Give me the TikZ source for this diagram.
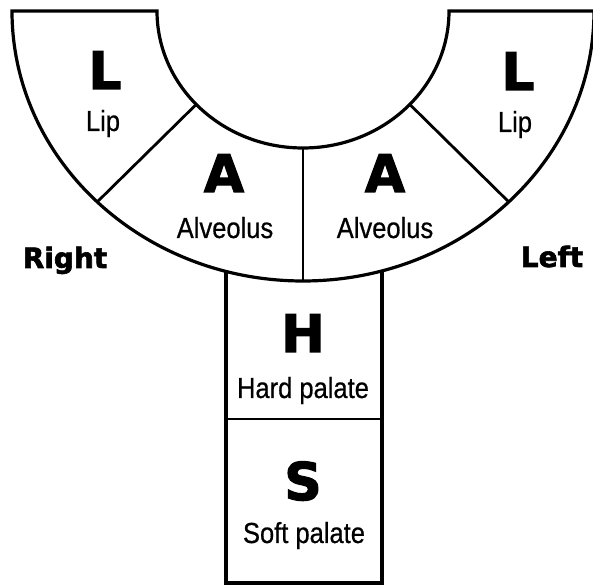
\documentclass[tikz,border=0pt]{standalone}
\usepackage{fontspec}
\usetikzlibrary{calc}
\newfontfamily\labfont[FakeStretch=0.88,FakeBold=0.6]{Liberation Sans}
\newfontfamily\heavyfont[FakeBold=2.2]{DejaVu Sans Bold}
\begin{document}
\begin{tikzpicture}[x=1pt,y=1pt,
  outline/.style={draw=black,line width=3.2pt,line join=miter},
  divider/.style={draw=black,line width=2.8pt},
  letter/.style={inner sep=0pt,anchor=base,font=\heavyfont\fontsize{52}{52}\selectfont},
  label/.style={inner sep=0pt,anchor=base,font=\labfont\fontsize{29}{29}\selectfont},
  side/.style={inner sep=0pt,anchor=base,font=\heavyfont\fontsize{28}{28}\selectfont}]
\useasboundingbox (0,0) rectangle (593,585);
\coordinate (C) at (303,574);
% half annulus
\draw[outline] (12,574) -- (157,574)
  arc[start angle=180,end angle=360,x radius=146,y radius=137]
  -- (594,574)
  arc[start angle=0,end angle=-180,x radius=291,y radius=270] -- cycle;
% dividers
\coordinate (li) at ($(C)+(223:146 and 137)$);
\coordinate (lo) at ($(C)+(225:291 and 270)$);
\coordinate (ri) at ($(C)+(317:146 and 137)$);
\coordinate (ro) at ($(C)+(315:291 and 270)$);
\coordinate (mi) at (303,437);
\coordinate (mo) at (303,304);
\draw[divider] (li) -- (lo);
\draw[divider] (ri) -- (ro);
\draw[divider] (mi) -- (mo);
% stem
\coordinate (tl) at (226,314);
\coordinate (tr) at (382,314);
\coordinate (bl) at (226,2);
\coordinate (br) at (382,2);
\coordinate (ml) at (226,166);
\coordinate (mr) at (382,166);
\draw[outline] (tl) -- (bl) -- (br) -- (tr);
\draw[divider] (ml) -- (mr);
% texts
\node[letter] (Ll) at (105,496) {L};
\node[label] (Lipl) at (103,454) {Lip};
\node[letter] (Lr) at (518,495) {L};
\node[label] (Lipr) at (515,453) {Lip};
\node[letter] (Al) at (224,393) {A};
\node[label] (Alvl) at (225,347) {Alveolus};
\node[letter] (Ar) at (385,393) {A};
\node[label] (Alvr) at (385,347) {Alveolus};
\node[letter] (H) at (303,233) {H};
\node[label] (Hp) at (303,187) {Hard palate};
\node[letter] (S) at (303,85) {S};
\node[label] (Sp) at (304,42) {Soft palate};
\node[side] (R) at (65,317) {Right};
\node[side] (Le) at (552,318) {Left};
\end{tikzpicture}
\end{document}
